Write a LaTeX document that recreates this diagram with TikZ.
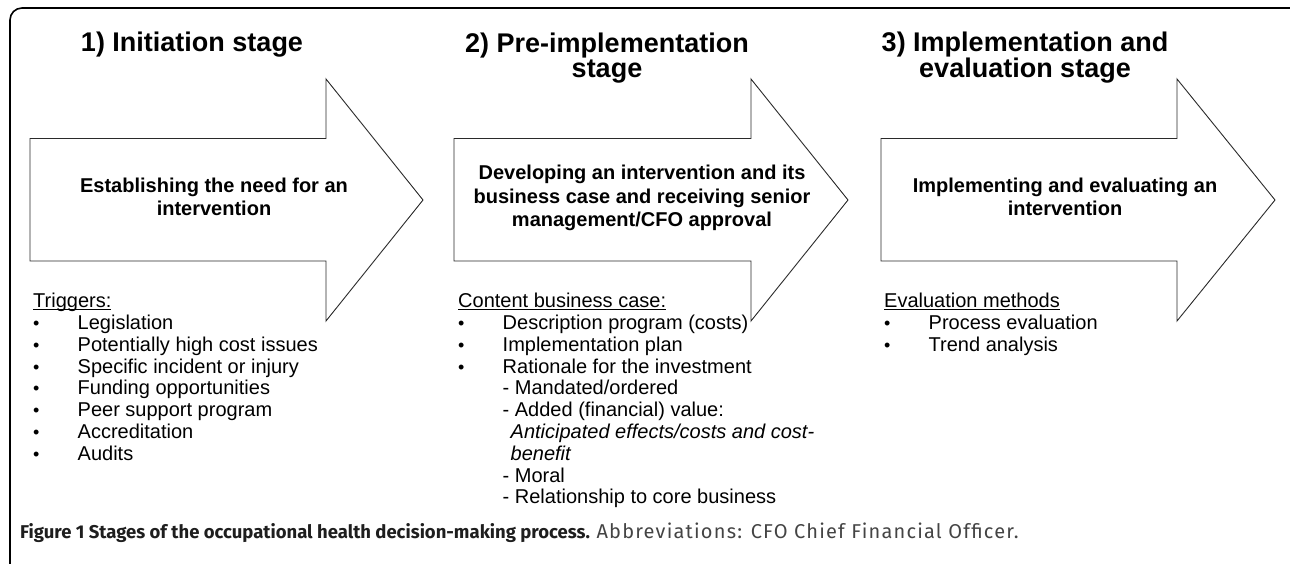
\documentclass[tikz,border=0pt]{standalone}
\usepackage{fontspec}
\setmainfont{Liberation Sans}
\newfontfamily\capfont{Fira Sans}
\newfontfamily\capwidefont[LetterSpace=6]{Fira Sans}
\definecolor{capgray}{HTML}{444444}
\definecolor{capdark}{HTML}{1E1E1E}
\definecolor{linegray}{HTML}{2A2A2A}
\newcommand{\myul}[1]{\setbox0=\hbox{#1}\rlap{\rule[-2.8pt]{\wd0}{1.3pt}}\box0}
\newcommand{\bul}{\makebox[44.5pt][l]{\hspace{0pt}\raisebox{0pt}{\fontsize{18}{0}\selectfont •}}}
\newcommand{\ind}[1]{\hspace*{#1}}
\begin{document}
\begin{tikzpicture}[x=1pt,y=-1pt,
  stagearrow/.style={draw=linegray, line width=0.9pt, line join=miter, fill=white},
  stagetitle/.style={font=\bfseries\fontsize{27}{25}\selectfont, align=center, inner sep=0pt},
  arrowlabel/.style={font=\bfseries\fontsize{20}{23.3}\selectfont, align=center, inner sep=0pt},
  listtext/.style={font=\fontsize{20}{21.8}\selectfont, align=left, inner sep=0pt, anchor=north west},
  frame/.style={line width=1.6pt, rounded corners=12pt}
]
\useasboundingbox (0,0) rectangle (1290,564);
\begin{scope}
  \clip (0,0) rectangle (1290,564);
  \draw[frame] (10,8) rectangle (1302,578);
\end{scope}

% arrows
\draw[stagearrow] (30,138.5) -- (326,138.5) -- (326,79) -- (423,200) -- (326,321) -- (326,261) -- (30,261) -- cycle;
\draw[stagearrow] (454,138.5) -- (751,138.5) -- (751,79) -- (848,200) -- (751,321) -- (751,261) -- (454,261) -- cycle;
\draw[stagearrow] (881,138.5) -- (1177,138.5) -- (1177,79) -- (1275,200) -- (1177,321) -- (1177,261) -- (881,261) -- cycle;

% titles (anchor base = baseline of last line)
\node[stagetitle, anchor=base] (t1) at (192,52) {1) Initiation stage};
\node[stagetitle, anchor=base] (t2) at (607,78) {2) Pre-implementation\\stage};
\node[stagetitle, anchor=base] (t3) at (1025,78) {3) Implementation and\\evaluation stage};

% arrow labels
\node[arrowlabel] (l1) at (214,197) {Establishing the need for an\\intervention};
\node[arrowlabel] (l2) at (642,198) {Developing an intervention and its\\business case and receiving senior\\management/CFO approval};
\node[arrowlabel] (l3) at (1065,197) {Implementing and evaluating an\\intervention};

% lists
\node[listtext] (list1) at (33,293) {\myul{Triggers:}\\
\bul Legislation\\
\bul Potentially high cost issues\\
\bul Specific incident or injury\\
\bul Funding opportunities\\
\bul Peer support program\\
\bul Accreditation\\
\bul Audits};

\node[listtext] (list2) at (458,293) {\myul{Content business case:}\\
\bul Description program (costs)\\
\bul Implementation plan\\
\bul Rationale for the investment\\
\ind{44.5pt}- Mandated/ordered\\
\ind{44.5pt}- Added (financial) value:\\
\ind{52.5pt}\textit{Anticipated effects/costs and cost-}\\
\ind{52.5pt}\textit{benefit}\\
\ind{44.5pt}- Moral\\
\ind{44.5pt}- Relationship to core business};

\node[listtext] (list3) at (884,293) {\myul{Evaluation methods}\\
\bul Process evaluation\\
\bul Trend analysis};

% caption
\node[anchor=base west, inner sep=0pt, font=\capfont\fontsize{18.5}{19}\selectfont] (cap) at (20,538)
  {\textcolor{capdark}{\bfseries Figure 1 Stages of the occupational health decision-making process.} \textcolor{capgray}{\capwidefont\fontsize{20}{19}\selectfont Abbreviations: CFO Chief Financial Officer.}};
\end{tikzpicture}
\end{document}
